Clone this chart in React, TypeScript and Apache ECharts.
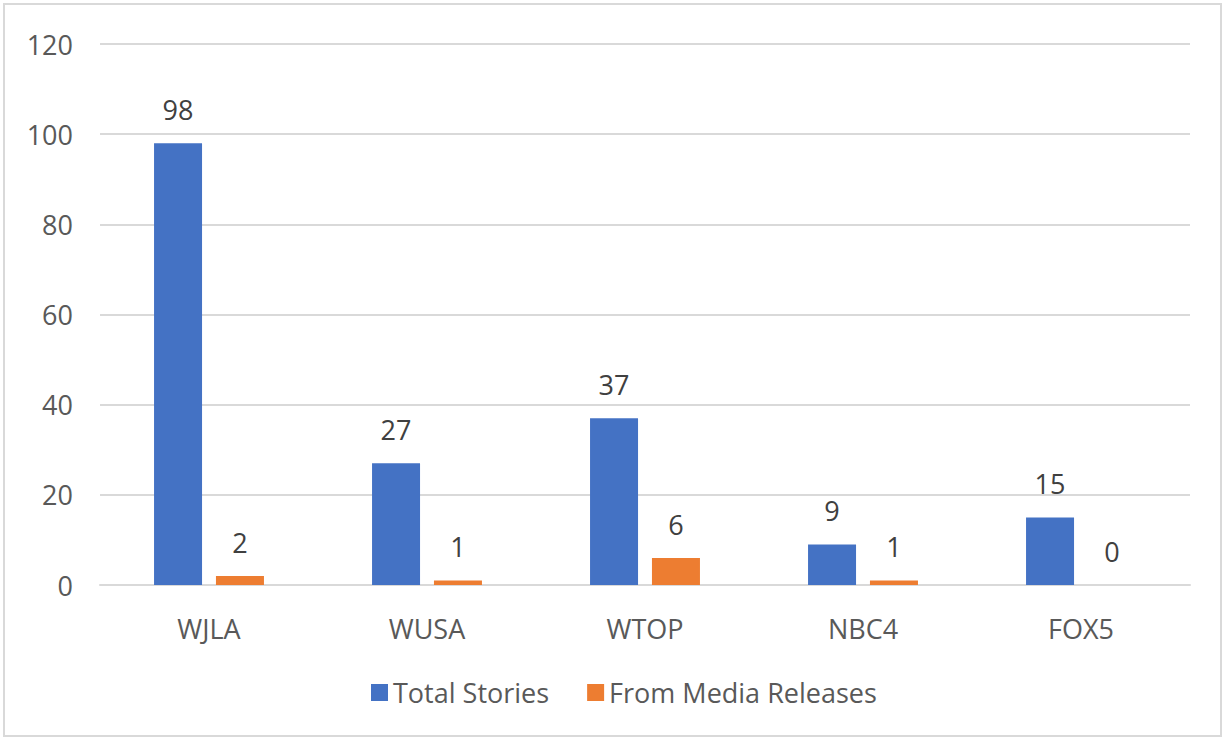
import React, { useEffect, useRef } from "react";
import * as echarts from "echarts";

const categories = ["WJLA", "WUSA", "WTOP", "NBC4", "FOX5"];
const totalStories = [98, 27, 37, 9, 15];
const fromMediaReleases = [2, 1, 6, 1, 0];
const seriesNames = ["Total Stories", "From Media Releases"];

export default function App() {
  const ref = useRef<HTMLDivElement>(null);
  useEffect(() => {
    const chart = echarts.init(ref.current!, null, { renderer: "svg" });
    const font = "'Open Sans', 'Noto Sans', sans-serif";
    const labelStyle = {
      show: true,
      position: "top" as const,
      distance: 20,
      color: "#404040",
      fontSize: 27,
      fontFamily: font,
    };
    chart.setOption({
      animation: false,
      backgroundColor: "#ffffff",
      graphic: [
        {
          type: "rect",
          shape: { x: 4, y: 4, width: 1217, height: 732 },
          style: { fill: "none", stroke: "#d9d9d9", lineWidth: 2 },
          silent: true,
        },
      ],
      grid: { left: 100, right: 35, top: 44, bottom: 155, containLabel: false },
      legend: {
        top: 674,
        left: 366,
        itemWidth: 17,
        itemHeight: 17,
        itemGap: 38,
        icon: "rect",
        textStyle: { fontSize: 27, color: "#595959", fontFamily: font },
        data: seriesNames,
      },
      xAxis: {
        type: "category",
        data: categories,
        axisLine: { lineStyle: { color: "#d9d9d9", width: 2 } },
        axisTick: { show: false },
        axisLabel: { fontSize: 27, color: "#595959", margin: 30, fontFamily: font },
      },
      yAxis: {
        type: "value",
        min: 0,
        max: 120,
        interval: 20,
        axisLine: { show: false },
        axisTick: { show: false },
        splitLine: { lineStyle: { color: "#d9d9d9", width: 2 } },
        axisLabel: { fontSize: 27, color: "#595959", margin: 27, fontFamily: font },
      },
      series: [
        {
          name: seriesNames[0],
          type: "bar",
          data: totalStories,
          barWidth: 48,
          barGap: "29%",
          itemStyle: { color: "#4472c4" },
          label: labelStyle,
        },
        {
          name: seriesNames[1],
          type: "bar",
          data: fromMediaReleases,
          barWidth: 48,
          itemStyle: { color: "#ed7d31" },
          label: labelStyle,
        },
      ],
    });
    return () => chart.dispose();
  }, []);
  return (
    <div
      ref={ref}
      style={{ position: "fixed", left: 0, top: 0, width: 1225, height: 740 }}
    />
  );
}
